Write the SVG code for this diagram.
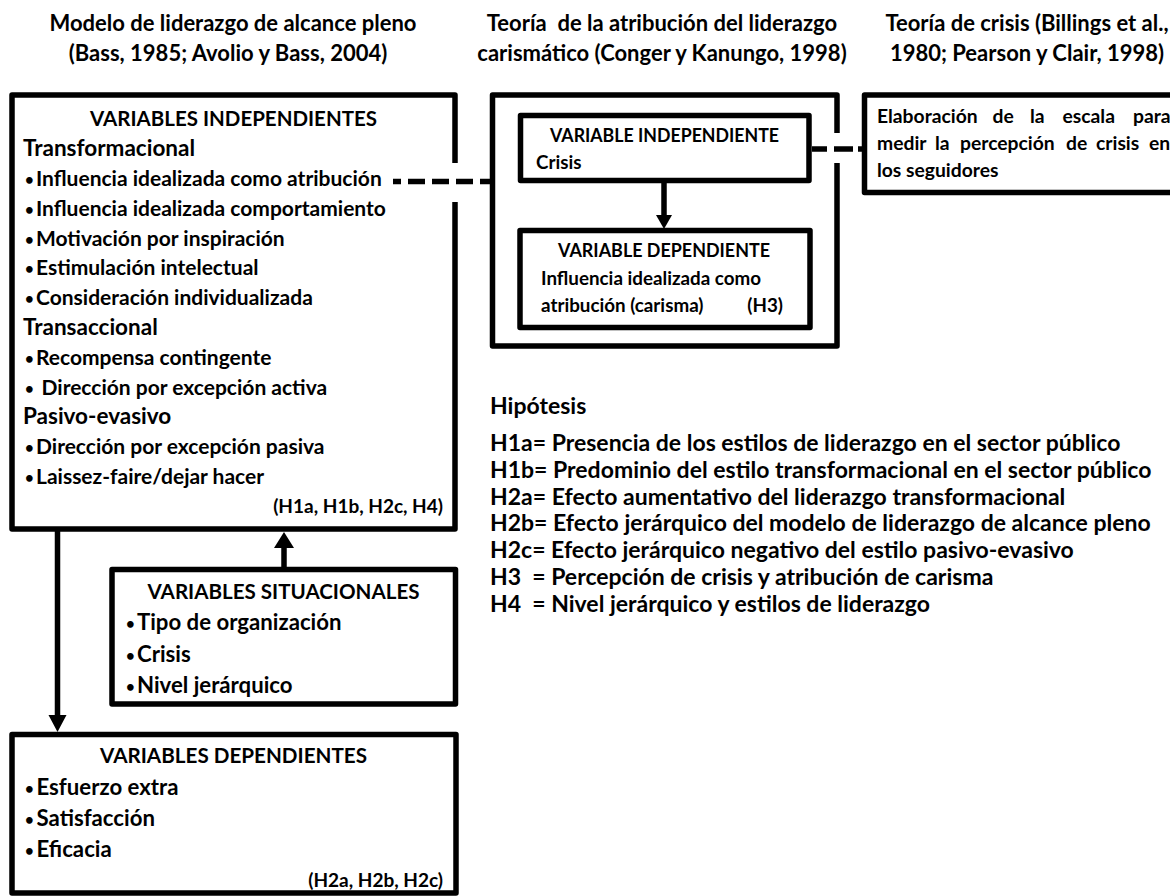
<svg xmlns="http://www.w3.org/2000/svg" width="1170" height="896" viewBox="0 0 1170 896">
  <defs>
    <style>
      text { font-family: Lato, "Open Sans", "Liberation Sans", sans-serif; font-weight: 700; fill: #000; }
      .title { font-size: 22px; text-anchor: middle; }
      .head { font-size: 21px; text-anchor: middle; }
      .sub { font-size: 22.5px; }
      .item { font-size: 21px; }
      .item2 { font-size: 22.2px; }
      .tag { font-size: 19px; text-anchor: end; }
      .bul { font-size: 15px; }
      .small { font-size: 18.8px; }
      .smallhead { font-size: 18.5px; text-anchor: middle; }
      .note { font-size: 19.3px; }
      .hyp { font-size: 23px; }
      .box { fill: none; stroke: #000; stroke-width: 5.5; stroke-linejoin: round; }
      .link { fill: none; stroke: #000; stroke-width: 5.5; }
      .dash { fill: none; stroke: #000; stroke-width: 5.5; }
      .arrowhead { fill: #000; }
    </style>
  </defs>
  <rect width="1170" height="896" fill="#fff"/>

  <!-- column titles -->
  <g id="titles">
    <text class="title" x="233" y="31">Modelo de liderazgo de alcance pleno</text>
    <text class="title" x="228" y="61">(Bass, 1985; Avolio y Bass, 2004)</text>
    <text class="title" x="662" y="31" xml:space="preserve">Teoría  de la atribución del liderazgo</text>
    <text class="title" x="662" y="61">carismático (Conger y Kanungo, 1998)</text>
    <text class="title" x="1027" y="31">Teoría de crisis (Billings et al.,</text>
    <text class="title" x="1027" y="61">1980; Pearson y Clair, 1998)</text>
  </g>

  <!-- full range leadership model: independent variables -->
  <g id="independientes">
    <path class="box" d="M455,163 V95 H12 V529 H455 V202"/>
    <text class="head" x="233.5" y="126" textLength="287" lengthAdjust="spacingAndGlyphs">VARIABLES INDEPENDIENTES</text>
    <text class="sub" x="23" y="156">Transformacional</text>
    <text class="item" y="186"><tspan class="bul" x="25" dy="-1">•</tspan><tspan x="36" dy="1">Influencia idealizada como atribución</tspan></text>
    <text class="item" y="215.5"><tspan class="bul" x="25" dy="-1">•</tspan><tspan x="36" dy="1">Influencia idealizada comportamiento</tspan></text>
    <text class="item" y="245.5"><tspan class="bul" x="25" dy="-1">•</tspan><tspan x="36" dy="1">Motivación por inspiración</tspan></text>
    <text class="item" y="275"><tspan class="bul" x="25" dy="-1">•</tspan><tspan x="36" dy="1">Estimulación intelectual</tspan></text>
    <text class="item" y="305"><tspan class="bul" x="25" dy="-1">•</tspan><tspan x="36" dy="1">Consideración individualizada</tspan></text>
    <text class="sub" x="23" y="335">Transaccional</text>
    <text class="item" y="364.5"><tspan class="bul" x="25" dy="-1">•</tspan><tspan x="36" dy="1">Recompensa contingente</tspan></text>
    <text class="item" y="394.5"><tspan class="bul" x="25" dy="-1">•</tspan><tspan x="41.5" dy="1">Dirección por excepción activa</tspan></text>
    <text class="sub" x="23" y="424">Pasivo-evasivo</text>
    <text class="item" y="454"><tspan class="bul" x="25" dy="-1">•</tspan><tspan x="36" dy="1">Dirección por excepción pasiva</tspan></text>
    <text class="item" y="484"><tspan class="bul" x="25" dy="-1">•</tspan><tspan x="36" dy="1">Laissez-faire/dejar hacer</tspan></text>
    <text class="tag" x="443" y="513">(H1a, H1b, H2c, H4)</text>
  </g>

  <!-- situational variables -->
  <g id="situacionales">
    <rect class="box" x="112" y="569.5" width="343.5" height="134.5"/>
    <text class="head" x="283.5" y="599" textLength="272" lengthAdjust="spacingAndGlyphs">VARIABLES SITUACIONALES</text>
    <text class="item2" y="630"><tspan class="bul" x="126" dy="-1">•</tspan><tspan x="137" dy="1">Tipo de organización</tspan></text>
    <text class="item2" y="662"><tspan class="bul" x="126" dy="-1">•</tspan><tspan x="137" dy="1">Crisis</tspan></text>
    <text class="item2" y="693"><tspan class="bul" x="126" dy="-1">•</tspan><tspan x="137" dy="1">Nivel jerárquico</tspan></text>
  </g>

  <!-- dependent variables -->
  <g id="dependientes">
    <rect class="box" x="12" y="734.5" width="444" height="158.5"/>
    <text class="head" x="233.5" y="763" textLength="267" lengthAdjust="spacingAndGlyphs">VARIABLES DEPENDIENTES</text>
    <text class="item2" y="795"><tspan class="bul" x="25" dy="-1">•</tspan><tspan x="36.5" dy="1">Esfuerzo extra</tspan></text>
    <text class="item2" y="826"><tspan class="bul" x="25" dy="-1">•</tspan><tspan x="36.5" dy="1">Satisfacción</tspan></text>
    <text class="item2" y="857"><tspan class="bul" x="25" dy="-1">•</tspan><tspan x="36.5" dy="1">Eficacia</tspan></text>
    <text class="tag" x="443" y="887">(H2a, H2b, H2c)</text>
  </g>

  <!-- charismatic attribution theory frame -->
  <g id="atribucion">
    <path class="box" d="M837,133 V95 H492.5 V346 H837 V163"/>
  </g>

  <g id="var-independiente">
    <rect class="box" x="520.5" y="115.5" width="288.5" height="65"/>
    <text class="smallhead" x="664.5" y="142" textLength="229" lengthAdjust="spacingAndGlyphs">VARIABLE INDEPENDIENTE</text>
    <text class="small" x="536" y="169">Crisis</text>
  </g>

  <g id="var-dependiente">
    <rect class="box" x="520" y="230.5" width="290" height="97"/>
    <text class="smallhead" x="664" y="257" textLength="212" lengthAdjust="spacingAndGlyphs">VARIABLE DEPENDIENTE</text>
    <text class="small" x="541" y="285">Influencia idealizada como</text>
    <text class="small" x="541" y="312">atribución (carisma)</text>
    <text class="small" x="783" y="312" text-anchor="end">(H3)</text>
  </g>

  <!-- crisis theory: scale construction (justified paragraph) -->
  <g id="escala">
    <path class="box" d="M1180,95 H864.5 V192.5 H1180"/>
    <text class="note" y="123"><tspan x="877">Elaboración</tspan> <tspan x="992.5">de</tspan> <tspan x="1030">la</tspan> <tspan x="1062.5">escala</tspan> <tspan x="1133">para</tspan></text>
    <text class="note" y="150"><tspan x="877">medir</tspan> <tspan x="935">la</tspan> <tspan x="960">percepción</tspan> <tspan x="1066">de</tspan> <tspan x="1096">crisis</tspan> <tspan x="1149">en</tspan></text>
    <text class="note" x="877" y="177">los seguidores</text>
  </g>

  <!-- hypotheses -->
  <g id="hipotesis">
    <text class="hyp" x="490" y="414">Hipótesis</text>
    <text class="hyp" x="490" y="451">H1a= Presencia de los estilos de liderazgo en el sector público</text>
    <text class="hyp" x="490" y="478">H1b= Predominio del estilo transformacional en el sector público</text>
    <text class="hyp" x="490" y="505">H2a= Efecto aumentativo del liderazgo transformacional</text>
    <text class="hyp" x="490" y="531">H2b= Efecto jerárquico del modelo de liderazgo de alcance pleno</text>
    <text class="hyp" x="490" y="558">H2c= Efecto jerárquico negativo del estilo pasivo-evasivo</text>
    <text class="hyp" x="490" y="585" xml:space="preserve">H3  = Percepción de crisis y atribución de carisma</text>
    <text class="hyp" x="490" y="612" xml:space="preserve">H4  = Nivel jerárquico y estilos de liderazgo</text>
  </g>

  <!-- connectors -->
  <g id="connectors">
    <line class="dash" x1="393" y1="181.5" x2="490" y2="181.5" stroke-dasharray="17 7" stroke-dashoffset="9"/>
    <line class="dash" x1="812" y1="149" x2="863" y2="149" stroke-dasharray="15 7 19 5 10"/>
    <line class="link" x1="664" y1="183" x2="664" y2="216"/>
    <polygon class="arrowhead" points="656,215 672,215 664,229"/>
    <line class="link" x1="57.5" y1="531" x2="57.5" y2="716"/>
    <polygon class="arrowhead" points="48.5,715 66.5,715 57.5,732"/>
    <line class="link" x1="284" y1="567" x2="284" y2="547"/>
    <polygon class="arrowhead" points="274,548 294,548 284,532"/>
  </g>
</svg>
